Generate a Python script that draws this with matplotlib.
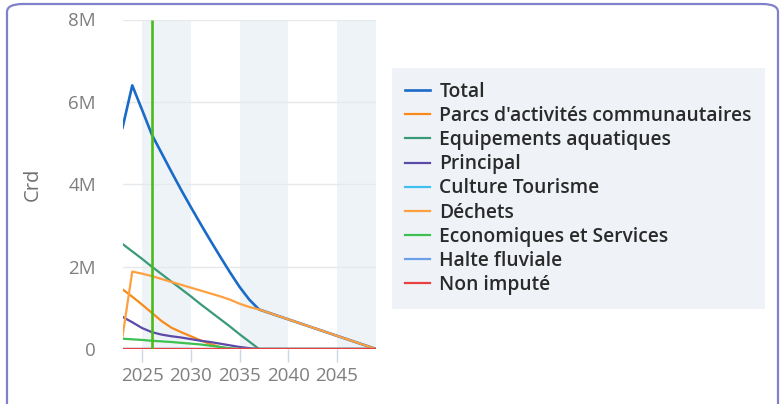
import matplotlib
matplotlib.use("Agg")
import matplotlib.pyplot as plt
from matplotlib.patches import FancyBboxPatch
from matplotlib.ticker import FuncFormatter

plt.rcParams["font.family"] = ["Open Sans", "DejaVu Sans"]

years = list(range(2023, 2050))

parcs = [1.45, 1.27, 1.08, 0.88, 0.68, 0.52, 0.41, 0.31, 0.21, 0.12, 0.05] + [0] * 16
equipements = [2.55, 2.37, 2.19, 2.00, 1.82, 1.64, 1.46, 1.28, 1.09, 0.91,
               0.73, 0.55, 0.36, 0.18] + [0] * 13
principal = [0.78, 0.65, 0.51, 0.41, 0.35, 0.31, 0.28, 0.24, 0.20, 0.17,
             0.13, 0.09, 0.05, 0.02] + [0] * 13
culture = [0] * 27
dechets = [0.30, 1.88, 1.83, 1.77, 1.70, 1.63, 1.56, 1.49, 1.42, 1.35,
           1.28, 1.20, 1.10, 1.02, 0.96, 0.88, 0.80, 0.72, 0.64, 0.56,
           0.48, 0.40, 0.32, 0.24, 0.16, 0.08, 0]
economiques = [0.25, 0.235, 0.22, 0.20, 0.185, 0.17, 0.15, 0.13, 0.11, 0.08,
               0.05, 0.02] + [0] * 15
halte = [0] * 27
non_impute = [0] * 27
total = [5.37, 6.40, 5.81, 5.21, 4.76, 4.31, 3.87, 3.45, 3.04, 2.64,
         2.25, 1.87, 1.51, 1.20, 0.96, 0.88, 0.80, 0.72, 0.64, 0.56,
         0.48, 0.40, 0.32, 0.24, 0.16, 0.08, 0]

series = [
    ("Total", total, "#1a6ac8"),
    ("Parcs d'activités communautaires", parcs, "#f98a1a"),
    ("Equipements aquatiques", equipements, "#3a9a78"),
    ("Principal", principal, "#5b4aa8"),
    ("Culture Tourisme", culture, "#40c0ee"),
    ("Déchets", dechets, "#ffa040"),
    ("Economiques et Services", economiques, "#3cc050"),
    ("Halte fluviale", halte, "#6aa0e8"),
    ("Non imputé", non_impute, "#e84040"),
]

current_year = 2026
yticks = [0, 2e6, 4e6, 6e6, 8e6]
xticks = [2025, 2030, 2035, 2040, 2045]
bands = [(2025, 2030), (2035, 2040), (2045, 2050)]

W, H = 783, 404
fig = plt.figure(figsize=(W / 100, H / 100), dpi=100)
ax = fig.add_axes([122.5 / W, 1 - 349 / H, (376 - 122.5) / W, (349 - 19.5) / H])

# rounded card border
fig.patches.append(FancyBboxPatch((7 / W, -0.1), (778 - 7) / W, (H - 4) / H + 0.1,
                                  boxstyle="round,pad=0,rounding_size=0.02",
                                  transform=fig.transFigure, fill=False,
                                  edgecolor="#8080cc", linewidth=1.6))

for a, b in bands:
    ax.axvspan(a, b, color="#eef3f7", lw=0, zorder=0)
for v in yticks:
    ax.axhline(v, color="#e6e9ec", lw=1, zorder=1)

for name, vals, color in series:
    lw = 1.9 if name == "Total" else 1.6
    ax.plot(years, [v * 1e6 for v in vals], color=color, lw=lw, label=name, zorder=3)

ax.vlines(current_year, 0, 8e6, color="#4cbb17", lw=1.9, zorder=4)

ax.set_xlim(2023, 2049)
ax.set_ylim(0, 8e6)
ax.set_xticks(xticks)
ax.set_yticks(yticks)
ax.yaxis.set_major_formatter(FuncFormatter(lambda v, p: "0" if v == 0 else f"{v / 1e6:.0f}M"))
for s in ax.spines.values():
    s.set_visible(False)
ax.tick_params(axis="y", length=0, pad=19, labelsize=13.5, labelcolor="#7f7f7f")
ax.tick_params(axis="x", length=9, width=1, color="#ccd6e6", pad=4,
               labelsize=13.5, labelcolor="#7f7f7f")
ax.set_ylabel("Crd", fontsize=14.5, color="#6f6f6f")
ax.yaxis.set_label_coords((43 - 122.5) / (376 - 122.5), 0.5)

leg = fig.legend(loc="upper left", bbox_to_anchor=(391.7 / W, 1 - 68.3 / H),
                 frameon=True, fancybox=False, borderaxespad=0, borderpad=0.7,
                 handlelength=1.3, handletextpad=0.47, labelspacing=0.215,
                 prop={"size": 13.9, "weight": "semibold"})
leg.get_frame().set_facecolor("#eff3f7")
leg.get_frame().set_edgecolor("none")
leg.get_frame().set_alpha(1)
for t in leg.get_texts():
    t.set_color("#2a2a2a")

fig.savefig("out.png", dpi=100)
